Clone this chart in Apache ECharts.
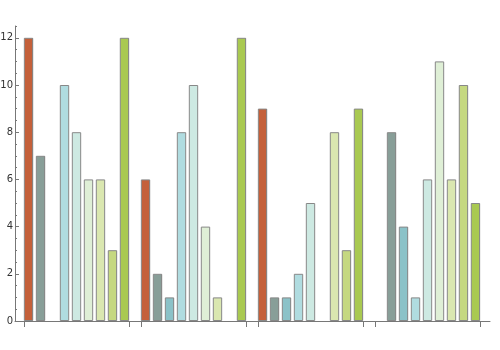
<!DOCTYPE html>
<html>
<head>
<meta charset="utf-8">
<script src="https://cdn.jsdelivr.net/npm/echarts@6/dist/echarts.min.js"></script>
<style>html,body{margin:0;padding:0;background:#fff;}#c{width:500px;height:350px;}</style>
</head>
<body>
<div id="c"></div>
<script>
const categories = ['A', 'B', 'C', 'D'];
const s1 = [12, 6, 9, null];
const s2 = [7, 2, 1, 8];
const s3 = [null, 1, 1, 4];
const s4 = [10, 8, 2, 1];
const s5 = [8, 10, 5, 6];
const s6 = [6, 4, null, 11];
const s7 = [6, 1, 8, 6];
const s8 = [3, null, 3, 10];
const s9 = [12, 12, 9, 5];
const yTicks = [0, 2, 4, 6, 8, 10, 12];

const seriesData = [s1, s2, s3, s4, s5, s6, s7, s8, s9];
const colors = ['#C4603A', '#889E98', '#8BC2C8', '#B0DCE0', '#CDE9E2', '#DFEFD6', '#DAE7B0', '#C5D880', '#A9C951'];
const edges = ['#6b2e18', '#4f5e5a', '#5f8f95', '#B0DCE0', '#CDE9E2', '#DFEFD6', '#DAE7B0', '#8a9a50', '#5b6e2a'];

const catGapFrac = 0.10;
const groupEdges = [];
categories.forEach((c, i) => { groupEdges.push(i + catGapFrac / 2, i + 1 - catGapFrac / 2); });

const axisColor = '#777';
const chart = echarts.init(document.getElementById('c'), null, {renderer: 'canvas'});
chart.setOption({
  animation: false,
  backgroundColor: '#fff',
  grid: [
    {left: 18, right: 14, top: 26, bottom: 29, containLabel: false, outerBoundsMode: 'none'},
    {left: 15, right: 10, top: 26, bottom: 29, containLabel: false, outerBoundsMode: 'none'}
  ],
  xAxis: [
    {type: 'category', gridIndex: 0, data: categories, boundaryGap: true,
     axisLine: {show: false}, axisTick: {show: false}, axisLabel: {show: false}, splitLine: {show: false}},
    {type: 'value', gridIndex: 1, min: -3 / 117, max: 472 / 117,
     axisLine: {show: true, lineStyle: {color: axisColor, width: 1}},
     axisTick: {show: true, inside: false, length: 6, lineStyle: {color: axisColor}, customValues: groupEdges},
     axisLabel: {show: false}, splitLine: {show: false}}
  ],
  yAxis: [
    {type: 'value', gridIndex: 0, min: 0, max: 12.5, interval: 2, position: 'left', offset: 3,
     axisLine: {show: true, lineStyle: {color: axisColor, width: 1}},
     axisTick: {show: true, inside: true, length: 4, lineStyle: {color: axisColor}, customValues: yTicks},
     axisLabel: {show: true, margin: 2, color: '#333', fontSize: 10, fontFamily: 'DejaVu Sans', customValues: yTicks},
     splitLine: {show: false}},
    {type: 'value', gridIndex: 0, min: 0, max: 12.5, interval: 0.5, position: 'left', offset: 3,
     axisLine: {show: false},
     axisTick: {show: true, inside: true, length: 2, lineStyle: {color: axisColor}},
     axisLabel: {show: false}, splitLine: {show: false}},
    {type: 'value', gridIndex: 1, min: 0, max: 12.5, show: false}
  ],
  series: seriesData.map((d, k) => ({
    type: 'bar',
    xAxisIndex: 0,
    yAxisIndex: 0,
    data: d,
    barGap: '28%',
    barCategoryGap: (catGapFrac * 100) + '%',
    itemStyle: {
      color: new echarts.graphic.LinearGradient(0, 0, 1, 0, [
        {offset: 0, color: colors[k]},
        {offset: 0.89, color: colors[k]},
        {offset: 0.9, color: edges[k]},
        {offset: 1, color: edges[k]}
      ]),
      borderColor: '#888',
      borderWidth: 1
    }
  }))
});
</script>
</body>
</html>
